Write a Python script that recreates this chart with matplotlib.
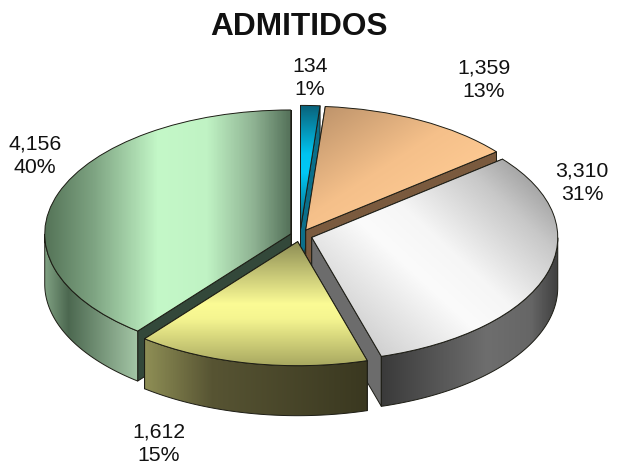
import numpy as np
import matplotlib
matplotlib.use("Agg")
import matplotlib.pyplot as plt
from matplotlib.colors import LinearSegmentedColormap
from matplotlib.patches import Polygon

plt.rcParams['font.family'] = ['Liberation Sans', 'DejaVu Sans']

title = "ADMITIDOS"
values = [134, 1359, 3310, 1612, 4156]
percents = ["1%", "13%", "31%", "15%", "40%"]
explode = [0.05, 0.05, 0.05, 0.05, 0.04]

# label anchors, reference pixels
label_px = [(310, 78), (484, 80), (582, 183), (159, 444), (35, 156)]

# styles: (stops, direction) for top and side, then wall colour
top_styles = [
    ([(0, '#0a5f78'), (.45, '#00c8f5'), (.6, '#00c4f0'), (1, '#0a6078')], (0, 1)),
    ([(0, '#b88f68'), (.45, '#f5c08a'), (.7, '#fdc992'), (1, '#fdc992')], (1, -1)),
    ([(0, '#b8b8b8'), (.22, '#dcdcdc'), (.42, '#fbfbfb'), (.55, '#f6f6f6'), (.78, '#c8c8c8'), (1, '#858585')], (.75, .65)),
    ([(0, '#8e8e55'), (.5, '#fbfb95'), (.62, '#f5f590'), (1, '#a8a860')], (0, -1)),
    ([(0, '#557458'), (.2, '#7fa583'), (.46, '#c4f8c8'), (.66, '#c0f3c4'), (.85, '#8fb393'), (1, '#55725a')], (1, 0)),
]
side_styles = [
    None, None,
    ([(0, '#3a3a3a'), (.6, '#6e6e6e'), (.85, '#666666'), (1, '#404040')], (1, 0)),
    ([(0, '#8e8e55'), (.3, '#575433'), (1, '#3a3820')], (1, 0)),
    ([(0, '#7fa082'), (.25, '#4c6850'), (1, '#a4c6a6')], (1, 0)),
]
wall_colors = ['#0b6f8a', '#7a5a3e', '#6c6c6c', '#3a3820', '#33483a']
draw_order = [0, 1, 4, 2, 3]
edge = '#1c1c14'

W, H = 620, 465
RX, RY, CX, CY, DEPTH = 246.0, 124.0, 300.0, 235.6, 50.0
d = DEPTH / RY

fig = plt.figure(figsize=(W / 100, H / 100), dpi=100, facecolor='white')
ax = fig.add_axes([0, 0, 1, 1])
wedges, _ = ax.pie(values, explode=explode, startangle=90, counterclock=False, radius=1)
ax.set_aspect('auto')


def gradient(poly, stops, direction, z):
    """Paint a gradient over the bounding box of poly and clip it to poly."""
    ext = poly.get_path().get_extents()
    n = 200
    u, v = np.meshgrid(np.linspace(0, 1, n), np.linspace(0, 1, n))
    dx, dy = direction
    t = u * dx + v * dy
    t = (t - t.min()) / (t.max() - t.min())
    cmap = LinearSegmentedColormap.from_list('g', stops)
    im = ax.imshow(t, cmap=cmap, origin='lower', aspect='auto', zorder=z,
                   extent=(ext.x0, ext.x1, ext.y0, ext.y1), interpolation='bilinear')
    im.set_clip_path(poly)


z = 1
for i in draw_order:
    w, top, side, wc = wedges[i], top_styles[i], side_styles[i], wall_colors[i]
    c = np.array(w.center)
    a = np.linspace(w.theta1, w.theta2, 400)
    rim = c + np.c_[np.cos(np.radians(a)), np.sin(np.radians(a))]
    down = np.array([0, -d])

    # cut faces, the one reaching further forward goes last
    ends = sorted([rim[0], rim[-1]], key=lambda p: -p[1])
    for e in ends:
        ax.add_patch(Polygon([c, e, e + down, c + down], closed=True, facecolor=wc,
                             edgecolor=edge, linewidth=0.7, zorder=z, joinstyle='round'))
        z += 1

    # outer wall
    front = rim[np.sin(np.radians(a)) <= 0]
    if side is not None and len(front) > 1:
        outline = np.vstack([front, (front + down)[::-1]])
        poly = Polygon(outline, closed=True, facecolor='none', edgecolor='none', zorder=z)
        ax.add_patch(poly)
        gradient(poly, side[0], side[1], z)
        z += 1
        ax.add_patch(Polygon(outline, closed=True, facecolor='none', edgecolor=edge,
                             linewidth=0.7, zorder=z))
        z += 1

    # top face
    outline = np.vstack([c, rim])
    poly = Polygon(outline, closed=True, facecolor='none', edgecolor='none', zorder=z)
    ax.add_patch(poly)
    gradient(poly, top[0], top[1], z)
    z += 1
    w.set(facecolor='none', edgecolor=edge, linewidth=0.7, zorder=z)
    z += 1

ax.set_xlim(-CX / RX, (W - CX) / RX)
ax.set_ylim(-(H - CY) / RY, CY / RY)
ax.axis('off')

fig.text(299 / W, 1 - 27 / H, title, fontsize=22.8, fontweight='bold', color='#111111',
         ha='center', va='center')
for v, p, (x, y) in zip(values, percents, label_px):
    fig.text(x / W, 1 - y / H, f"{v:,}\n{p}", fontsize=15.3, color='#111111', ha='center',
             va='center', linespacing=1.3)

fig.savefig('out.png', dpi=100, facecolor='white')
